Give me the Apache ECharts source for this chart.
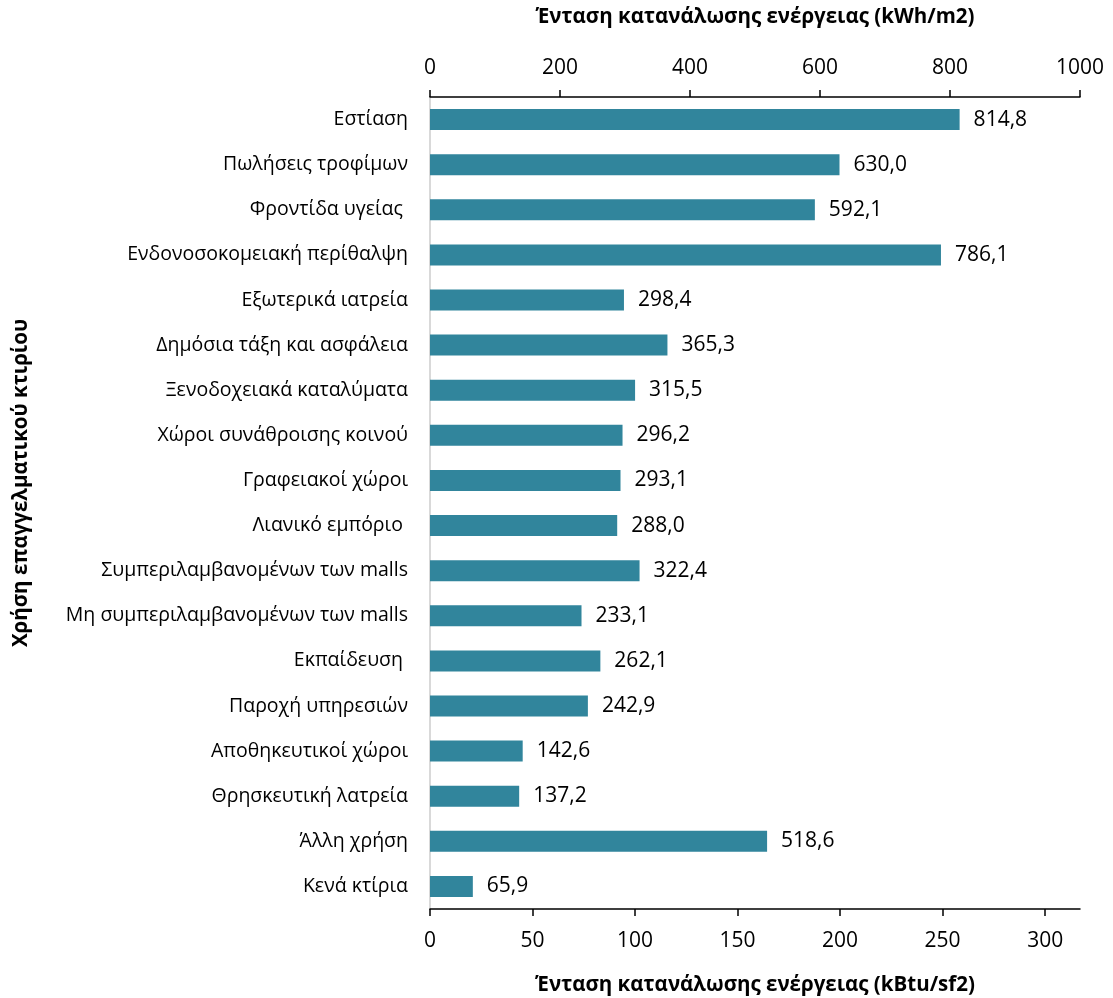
<!DOCTYPE html>
<html>
<head>
<meta charset="utf-8">
<script src="https://cdn.jsdelivr.net/npm/echarts@6/dist/echarts.min.js"></script>
<style>
  html, body { margin: 0; padding: 0; background: #fff; }
  #chart { width: 1113px; height: 998px; }
</style>
</head>
<body>
<div id="chart"></div>
<script>
// Building use categories (top to bottom)
const categories = [
  'Εστίαση',
  'Πωλήσεις τροφίμων',
  'Φροντίδα υγείας ',
  'Ενδονοσοκομειακή περίθαλψη',
  'Εξωτερικά ιατρεία',
  'Δημόσια τάξη και ασφάλεια',
  'Ξενοδοχειακά καταλύματα',
  'Χώροι συνάθροισης κοινού',
  'Γραφειακοί χώροι',
  'Λιανικό εμπόριο ',
  'Συμπεριλαμβανομένων των malls',
  'Μη συμπεριλαμβανομένων των malls',
  'Εκπαίδευση ',
  'Παροχή υπηρεσιών',
  'Αποθηκευτικοί χώροι',
  'Θρησκευτική λατρεία',
  'Άλλη χρήση',
  'Κενά κτίρια'
];

// Energy use intensity, kWh/m2
const intensityKwhM2 = [
  814.8, 630.0, 592.1, 786.1, 298.4, 365.3, 315.5, 296.2, 293.1,
  288.0, 322.4, 233.1, 262.1, 242.9, 142.6, 137.2, 518.6, 65.9
];

// Axis ticks
const topTicks = [0, 200, 400, 600, 800, 1000];       // kWh/m2
const bottomTicks = [0, 50, 100, 150, 200, 250, 300];  // kBtu/sf2

// 1 kBtu/sf2 = 3.15459 kWh/m2
const KWH_PER_KBTU = 3.15459;

const FONT = '"Open Sans", sans-serif';
const BAR_COLOR = '#31859C';
const TITLE_STYLE = { fontFamily: FONT, fontSize: 20.5, fontWeight: 'bold', color: '#000' };
const TICK_LABEL = { fontFamily: FONT, fontSize: 21, color: '#000', formatter: v => String(v) };

const chart = echarts.init(document.getElementById('chart'), null, { renderer: 'canvas' });

chart.setOption({
  animation: false,
  backgroundColor: '#ffffff',
  textStyle: { fontFamily: FONT, color: '#000' },
  grid: { left: 430, right: 33, top: 97, bottom: 89, containLabel: false, outerBoundsMode: 'none' },
  xAxis: [
    {
      type: 'value',
      position: 'top',
      min: 0,
      max: 1000,
      interval: 200,
      name: 'Ένταση κατανάλωσης ενέργειας (kWh/m2)',
      nameLocation: 'middle',
      nameGap: 69,
      nameTextStyle: TITLE_STYLE,
      axisLine: { show: true, lineStyle: { color: '#000', width: 1.5 } },
      axisTick: { show: true, inside: false, length: 7, lineStyle: { color: '#000', width: 1.5 },
        customValues: topTicks },
      axisLabel: Object.assign({ margin: 18, customValues: topTicks }, TICK_LABEL),
      splitLine: { show: false }
    },
    {
      type: 'value',
      position: 'bottom',
      min: 0,
      max: 1000 / KWH_PER_KBTU,
      name: 'Ένταση κατανάλωσης ενέργειας (kBtu/sf2)',
      nameLocation: 'middle',
      nameGap: 66,
      nameTextStyle: TITLE_STYLE,
      axisLine: { show: true, lineStyle: { color: '#000', width: 1.5 } },
      axisTick: { show: true, inside: false, length: 7, lineStyle: { color: '#000', width: 1.5 },
        customValues: bottomTicks },
      axisLabel: Object.assign({ margin: 22, customValues: bottomTicks }, TICK_LABEL),
      splitLine: { show: false }
    }
  ],
  yAxis: {
    type: 'category',
    data: categories,
    inverse: true,
    name: 'Χρήση επαγγελματικού κτιρίου',
    nameLocation: 'middle',
    nameGap: 398,
    nameRotate: 90,
    nameTextStyle: Object.assign({ padding: [0, 0, 0, 40] }, TITLE_STYLE),
    axisLine: { show: true, lineStyle: { color: '#d9d9d9', width: 2 } },
    axisTick: { show: false },
    axisLabel: { fontFamily: FONT, fontSize: 19.5, color: '#000', margin: 22 }
  },
  series: [
    {
      type: 'bar',
      xAxisIndex: 0,
      data: intensityKwhM2,
      barWidth: 21,
      itemStyle: { color: BAR_COLOR },
      label: {
        show: true,
        position: 'right',
        distance: 14,
        fontFamily: FONT,
        fontSize: 21,
        color: '#000',
        formatter: p => p.value.toFixed(1).replace('.', ',')
      }
    }
  ]
});
</script>
</body>
</html>
